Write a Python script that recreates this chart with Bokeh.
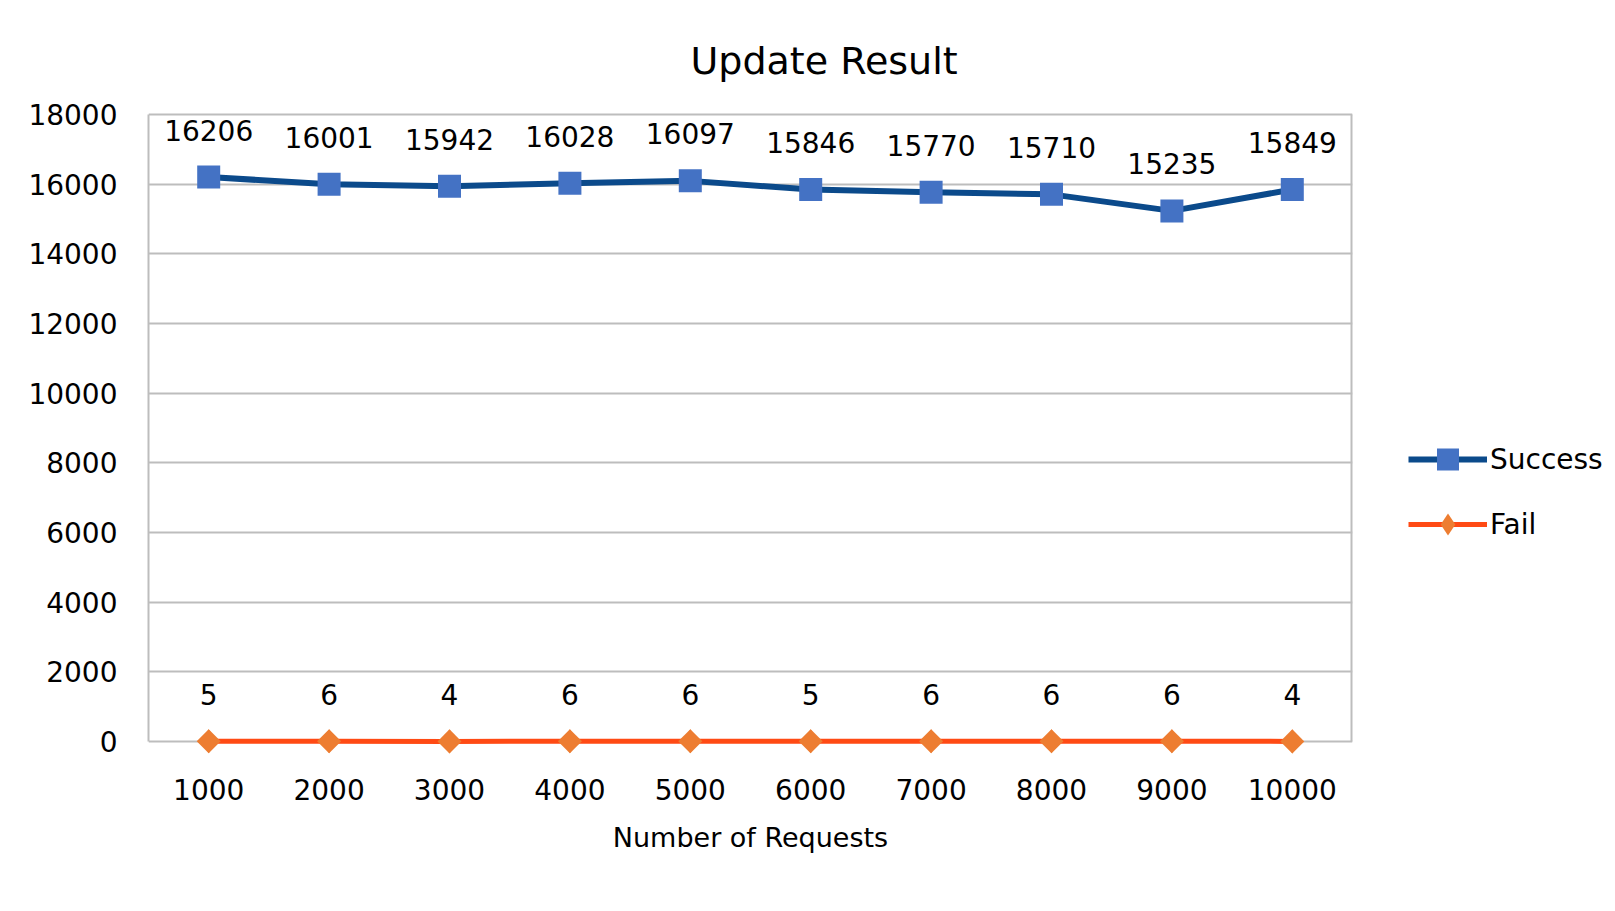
import numpy as np
from bokeh.plotting import figure
from bokeh.models import (ColumnDataSource, Legend, LegendItem, Title, SingleIntervalTicker)
from bokeh.core.properties import value
from bokeh.embed import file_html
from bokeh.resources import INLINE

requests = ["1000", "2000", "3000", "4000", "5000", "6000", "7000", "8000", "9000", "10000"]
success = [16206, 16001, 15942, 16028, 16097, 15846, 15770, 15710, 15235, 15849]
fail = [5, 6, 4, 6, 6, 5, 6, 6, 6, 4]

FONT = "DejaVu Sans"
GRID = "#BDBDBD"

src = ColumnDataSource(dict(x=requests, s=success, f=fail,
                            sl=[str(v) for v in success], fl=[str(v) for v in fail]))

p = figure(x_range=requests, y_range=(-430, 18060), frame_width=1204, frame_height=644,
           output_backend="svg", toolbar_location=None,
           min_border_left=148, min_border_right=260, min_border_top=112, min_border_bottom=152)

p.title = Title(text="Update Result", align="left", offset=542, standoff=60,
                text_font=FONT, text_font_size="38px", text_font_style="normal", text_color="#000000")

p.outline_line_color = None
p.xgrid.grid_line_color = None
p.ygrid.grid_line_color = GRID
p.ygrid.grid_line_width = 2
p.yaxis.ticker = SingleIntervalTicker(interval=2000)
p.yaxis.bounds = (0, 18000)

for ax in (p.xaxis, p.yaxis):
    ax.axis_line_color = GRID
    ax.axis_line_width = 2
    ax.major_tick_line_color = None
    ax.minor_tick_line_color = None
    ax.major_tick_in = 0
    ax.major_tick_out = 0
    ax.minor_tick_out = 0
    ax.major_label_text_font = FONT
    ax.major_label_text_font_size = "28px"
    ax.major_label_text_color = "#000000"
p.xaxis.axis_line_color = None

# right border of the plot box, at the right edge of the last category
p.segment(x0=[len(requests)], x1=[len(requests)], y0=[0], y1=[18000],
          line_color=GRID, line_width=4)

p.yaxis.major_label_standoff = 31
p.xaxis.major_label_standoff = 22
p.xaxis.axis_label = "Number of Requests"
p.xaxis.axis_label_text_font = FONT
p.xaxis.axis_label_text_font_size = "27px"
p.xaxis.axis_label_text_font_style = "normal"
p.xaxis.axis_label_text_color = "#000000"
p.xaxis.axis_label_standoff = 19

l1 = p.line("x", "s", source=src, line_color="#0B4A8B", line_width=6)
m1 = p.scatter("x", "s", source=src, marker="square", size=23, fill_color="#4472C4", line_color=None)
l2 = p.line("x", "f", source=src, line_color="#FF4A14", line_width=5)
# diamond used for the legend (hidden beneath the rotated squares in the plot)
m2_leg = p.scatter("x", "f", source=src, marker="diamond", size=24, fill_color="#ED7D31", line_color=None)
m2 = p.scatter("x", "f", source=src, marker="square", angle=np.pi / 4, size=17,
               fill_color="#ED7D31", line_color=None)

p.text("x", "s", text="sl", source=src, y_offset=-47, text_align="center", text_baseline="middle",
       text_font=value(FONT), text_font_size="28px", text_color="#000000")
p.text("x", "f", text="fl", source=src, y_offset=-47, text_align="center", text_baseline="middle",
       text_font=value(FONT), text_font_size="28px", text_color="#000000")

legend = Legend(items=[LegendItem(label="Success", renderers=[l1, m1]),
                       LegendItem(label="Fail", renderers=[l2, m2_leg])],
                location="center_left", orientation="vertical",
                title="\u00a0", title_text_font_size="28px", title_standoff=83,
                glyph_width=79, glyph_height=55, label_height=55, spacing=10,
                label_standoff=3, padding=0, margin=56,
                border_line_color=None, background_fill_alpha=0,
                label_text_font=FONT, label_text_font_size="28px", label_text_color="#000000")
p.add_layout(legend, "right")

open("out.html", "w").write(file_html(p, INLINE))
